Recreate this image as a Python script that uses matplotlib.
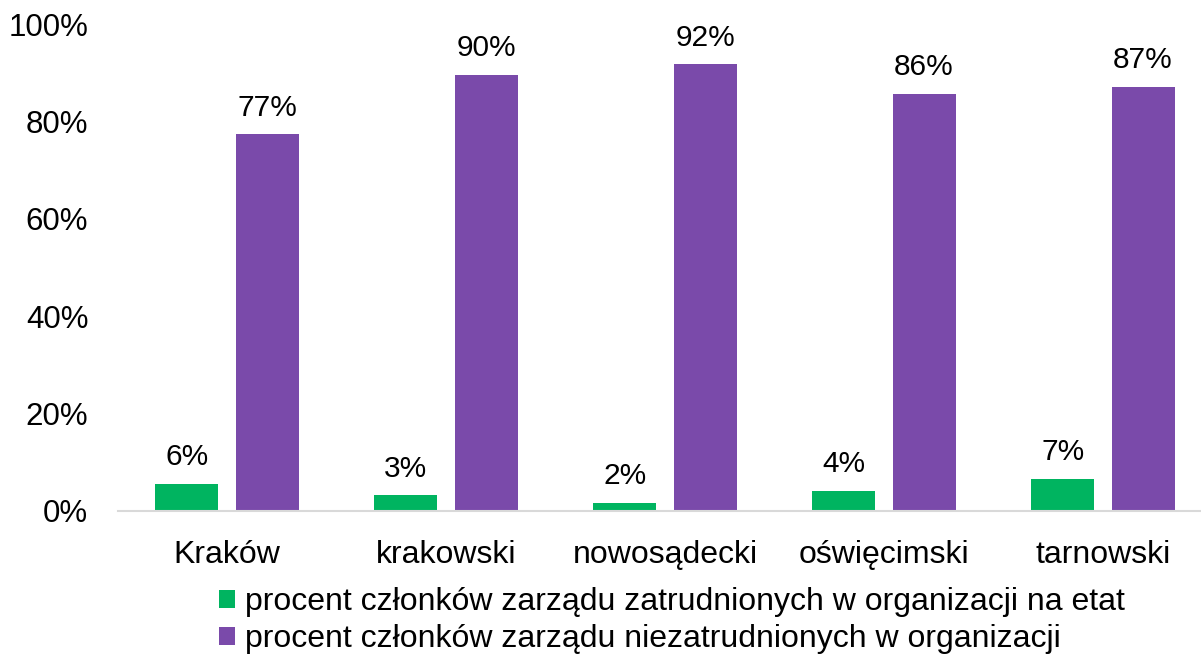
import matplotlib
matplotlib.use("Agg")
import matplotlib.pyplot as plt
import numpy as np
from matplotlib.patches import Patch

plt.rcParams['font.family'] = ['Liberation Sans', 'DejaVu Sans']

categories = ["Kraków", "krakowski", "nowosądecki", "oświęcimski", "tarnowski"]
employed = [5.6, 3.2, 1.7, 4.2, 6.6]
not_employed = [77.4, 89.6, 91.7, 85.7, 87.1]
series_names = ["procent członków zarządu zatrudnionych w organizacji na etat",
                "procent członków zarządu niezatrudnionych w organizacji"]
yticks = [0, 20, 40, 60, 80, 100]

green = "#00B460"
purple = "#7A4AAA"

W, H = 1201, 657
fig = plt.figure(figsize=(W / 100, H / 100), dpi=100)
left, right, top, bottom = 117.5, 1212.5, 24, 511
ax = fig.add_axes([left / W, 1 - bottom / H, (right - left) / W, (bottom - top) / H])

x = np.arange(len(categories))
bw = 0.288
off = 0.183
b1 = ax.bar(x - off, employed, bw, color=green)
b2 = ax.bar(x + off, not_employed, bw, color=purple)

for bars, vals in ((b1, employed), (b2, not_employed)):
    for r, v in zip(bars, vals):
        ax.annotate(f"{round(v)}%", (r.get_x() + r.get_width() / 2, v),
                    xytext=(0, 9), textcoords="offset points",
                    ha="center", va="bottom", fontsize=21.5)

ax.set_xlim(-0.5, len(categories) - 0.5)
ax.set_ylim(0, 100)
ax.set_yticks(yticks)
ax.set_yticklabels([f"{t}%" for t in yticks], fontsize=22.5)
ax.set_xticks(x)
ax.set_xticklabels(categories, fontsize=23)
ax.tick_params(axis="both", length=0)
ax.tick_params(axis="y", pad=21)
ax.tick_params(axis="x", pad=21)
for s in ("top", "right", "left"):
    ax.spines[s].set_visible(False)
ax.spines["bottom"].set_color("#D9D9D9")
ax.spines["bottom"].set_linewidth(1.5)

handles = [Patch(facecolor=green), Patch(facecolor=purple)]
fig.legend(handles, series_names, loc="upper left",
           bbox_to_anchor=(219 / W, 1 - 587 / H), frameon=False,
           fontsize=23, handlelength=0.5, handleheight=0.5,
           handletextpad=0.3, labelspacing=0.22, borderaxespad=0, borderpad=0)

fig.savefig("out.png", dpi=100)
